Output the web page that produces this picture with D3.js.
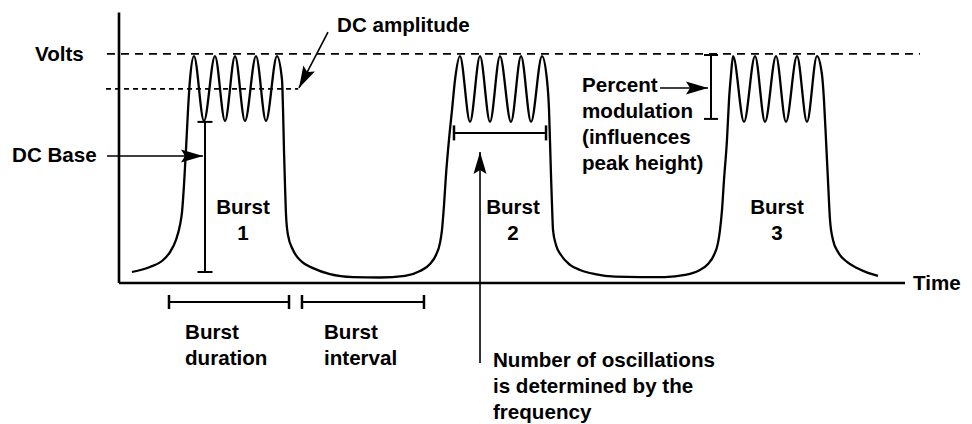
<!DOCTYPE html>
<html>
<head>
<meta charset="utf-8">
<script src="https://cdn.jsdelivr.net/npm/d3@7"></script>
<style>
  body { margin: 0; background: #fff; }
  text { font-family: "Liberation Sans", Arial, sans-serif; font-weight: bold; font-size: 20.6px; fill: #000; }
</style>
</head>
<body>
<svg width="972" height="424"></svg>
<script>
// waveform, [time, volts]
var burst1 = [[1.65,0.48],[3.94,0.70],[5.47,0.96],[6.49,1.35],[7.25,1.88],[7.76,2.53],[8.02,3.10],[8.27,4.28],[8.52,5.80],[8.78,7.55],[9.03,8.86],
  [9.54,9.9],[10.81,7.07],[12.21,9.9],[13.49,7.07],[14.76,9.9],[16.03,7.07],[17.43,9.9],[18.70,7.07],[20.10,9.9],
  [20.74,8.86],[20.87,7.55],[20.99,5.80],[21.12,4.28],[21.25,2.97],[21.50,2.09],[22.14,1.44],[23.28,0.92],[24.68,0.65],[26.84,0.39],[29.77,0.26],[33.21,0.24]];
var burst2 = [[36.39,0.31],[38.30,0.52],[39.57,0.83],[40.33,1.22],[40.84,1.75],[41.09,2.31],[41.35,3.40],[41.60,4.71],[41.98,6.24],[42.37,7.55],[42.75,8.86],
  [43.38,9.9],[44.66,7.03],[45.93,9.9],[47.20,7.03],[48.47,9.9],[49.87,7.03],[51.15,9.9],[52.42,7.03],[53.82,9.9],
  [54.45,8.86],[54.71,7.55],[54.83,6.24],[54.96,4.71],[55.09,3.40],[55.22,2.31],[55.60,1.66],[56.23,1.22],[57.38,0.79],[58.65,0.57],[60.56,0.39],[63.10,0.28],[66.28,0.26],[69.47,0.26]];
var burst3 = [[72.01,0.35],[73.66,0.52],[74.94,0.83],[75.70,1.22],[76.21,1.75],[76.46,2.31],[76.72,3.19],[76.97,4.49],[77.35,6.24],[77.61,7.99],[77.86,9.08],
  [78.12,9.9],[79.52,7.03],[80.92,9.9],[82.19,7.03],[83.59,9.9],[84.86,7.03],[86.26,9.9],[87.53,7.03],[88.80,9.9],
  [89.44,9.08],[89.69,7.99],[89.95,6.24],[90.20,4.49],[90.46,2.75],[90.84,1.88],[91.48,1.35],[92.62,0.92],[93.89,0.65],[95.29,0.44],[96.56,0.31]];

// levels (volts)
var peakLevel = 10, dcAmpLevel = 8.47, dcBaseLevel = 7.03, floorLevel = 0.48;

var burstNames = ["1", "2", "3"];
var burstMid = [15.78, 50.13, 83.72];
var freqText = ["Number of oscillations", "is determined by the", "frequency"];
var modText = ["Percent", "modulation", "(influences", "peak height)"];

var svg = d3.select("svg");
var x = d3.scaleLinear().domain([0, 100]).range([119, 905]);
var y = d3.scaleLinear().domain([0, 12]).range([283, 8]);

svg.append("defs").append("marker")
  .attr("id", "head").attr("markerUnits", "userSpaceOnUse")
  .attr("viewBox", "-24 -8 26 16").attr("markerWidth", 26).attr("markerHeight", 16)
  .attr("refX", 0).attr("refY", 0).attr("orient", "auto")
  .append("path").attr("d", "M0,0 L-22,-6.5 L-18,0 L-22,6.5 Z").attr("fill", "#000");

var seg = function (x1, y1, x2, y2, w) {
  return svg.append("line")
    .attr("x1", x1).attr("y1", y1).attr("x2", x2).attr("y2", y2)
    .attr("stroke", "#000").attr("stroke-width", w || 2);
};

var arrow = function (t1, v1, t2, v2) {
  seg(x(t1), y(v1), x(t2), y(v2), 1.6).attr("marker-end", "url(#head)");
};

var bracket = function (t1, v1, t2, v2, cap) {
  var x1 = x(t1), y1 = y(v1), x2 = x(t2), y2 = y(v2);
  seg(x1, y1, x2, y2, 2);
  if (x1 == x2) {
    seg(x1 - cap, y1, x1 + cap, y1, 2);
    seg(x2 - cap, y2, x2 + cap, y2, 2);
  } else {
    seg(x1, y1 - cap, x1, y1 + cap, 2.5);
    seg(x2, y2 - cap, x2, y2 + cap, 2.5);
  }
};

var label = function (lines, t, v, anchor) {
  var txt = svg.append("text").attr("text-anchor", anchor || "start");
  lines.forEach(function (s, i) {
    txt.append("tspan").attr("x", x(t)).attr("y", y(v) + i * 26).attr("dy", "0.35em").text(s);
  });
};

// reference levels
seg(x(-1.53), y(peakLevel), x(101.9), y(peakLevel), 1.8).attr("stroke-dasharray", "8,6");
seg(x(-1.65), y(dcAmpLevel), x(22.8), y(dcAmpLevel), 1.6).attr("stroke-dasharray", "5,4");

// axes
seg(x(0), y(0), x(0), y(11.8), 2.6);
seg(x(0), y(0), x(100), y(0), 2.6);

// waveform
var line = d3.line().x(d => x(d[0])).y(d => y(d[1])).curve(d3.curveMonotoneX);
svg.append("path")
  .attr("fill", "none").attr("stroke", "#000").attr("stroke-width", 2.3)
  .attr("stroke-linejoin", "round")
  .attr("d", line(burst1.concat(burst2, burst3)));

// annotations
label(["Volts"], -10.69, peakLevel);
label(["DC Base"], -13.61, 5.59);
label(["Time"], 101.02, 0);
label(["DC amplitude"], 27.74, 11.26);
arrow(26.59, 10.95, 22.9, 8.51);
arrow(-1.53, 5.54, 10.69, 5.54);
bracket(10.94, dcBaseLevel, 10.94, floorLevel, 7.5);

burstNames.forEach(function (n, i) {
  label(["Burst", n], burstMid[i], 3.32, "middle");
});

bracket(6.36, -0.83, 21.63, -0.83, 7);
bracket(23.28, -0.83, 38.8, -0.83, 7);
label(["Burst", "duration"], 8.4, -2.14);
label(["Burst", "interval"], 26.08, -2.14);

bracket(42.62, 6.55, 54.33, 6.55, 7.5);
arrow(45.93, -3.49, 45.93, 5.72);
label(freqText, 47.58, -3.36);

label(modText, 58.91, 8.64);
arrow(68.83, 8.51, 74.94, 8.51);
bracket(75.32, 9.95, 75.32, 7.16, 7);
</script>
</body>
</html>
